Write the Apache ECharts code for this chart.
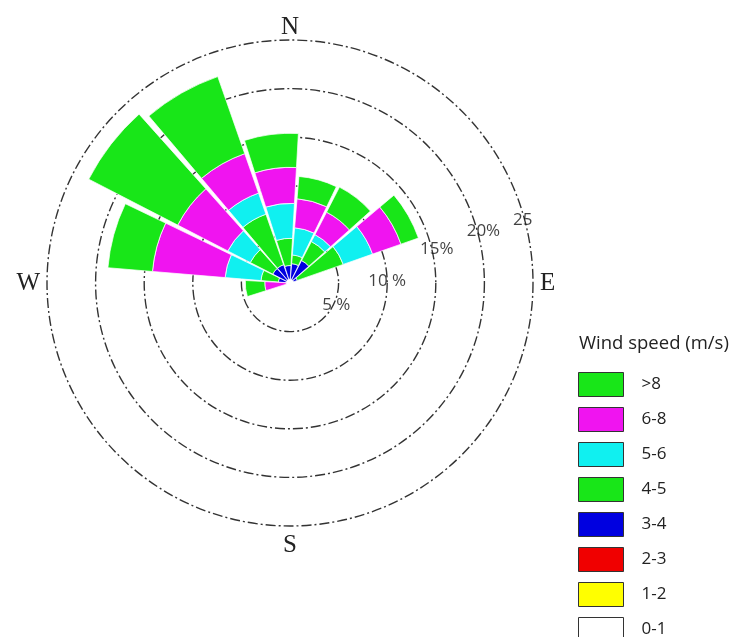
<!DOCTYPE html>
<html>
<head>
<meta charset="utf-8">
<script src="https://cdn.jsdelivr.net/npm/echarts@6/dist/echarts.min.js"></script>
<style>
html,body{margin:0;padding:0;background:#fff;}
#chart{width:735px;height:637px;}
</style>
</head>
<body>
<div id="chart"></div>
<script>
// ---- data ----
const directions = ['N','NNE','NE','ENE','E','ESE','SE','SSE','S','SSW','SW','WSW','W','WNW','NW','NNW'];
const speedBins = ['0-1','1-2','2-3','3-4','4-5','5-6','6-8','>8'];
const legendOrder = ['>8','6-8','5-6','4-5','3-4','2-3','1-2','0-1'];
// frequency (%) per direction sector, per wind speed class
const s0_1  = [0.4,0.4,0.4,0.3,0,0,0,0,0,0,0,0.4,0.4,0.4,0.4,0.4];
const s1_2  = [0,0,0,0,0,0,0,0,0,0,0,0,0,0,0,0];
const s2_3  = [0,0,0,0,0,0,0,0,0,0,0,0,0,0,0,0];
const s3_4  = [1.6,2.2,0.4,0,0,0,0,0,0,0,0,0,0.8,1.6,1.6,1.4];
const s4_5  = [0.9,2.2,5.0,0,0,0,0,0,0,0,0,0,1.8,2.6,5.5,2.8];
const s5_6  = [2.8,0.8,3.2,0,0,0,0,0,0,0,0,0,3.7,2.6,2.3,3.6];
const s6_8  = [3.0,2.6,3.1,0,0,0,0,0,0,0,0,2.2,7.5,5.8,4.3,3.7];
const s8up  = [2.3,2.9,1.9,0,0,0,0,0,0,0,0,2.0,4.6,10.3,8.4,3.5];
const ringTicks = [5,10,15,20,25];
const ringTickLabels = ['5 %','10 %','15%','20%','25'];
const compassLabels = {0:'N',90:'E',180:'S',270:'W'};

// ---- styles / layout ----
const binValues = [s0_1,s1_2,s2_3,s3_4,s4_5,s5_6,s6_8,s8up];
const binColors = ['#ffffff','#ffff00','#f00000','#0000e0','#18e618','#10f0f0','#f014f0','#18e618'];
const ringLabelBearing = [116, 89, 77, 75, 75];
const ringLabelRadius = [5.3, 10.0, 15.5, 20.6, 24.8];
const CENTER = [290, 283];
const RADIUS = 243;
const dash = [10, 3, 2, 3];
const UI_FONT = 'Open Sans';

const chart = echarts.init(document.getElementById('chart'), null, {renderer:'canvas'});

const series = speedBins.map((name, i) => ({
  type: 'bar',
  name: name,
  coordinateSystem: 'polar',
  polarIndex: 0,
  stack: 'wind',
  data: binValues[i],
  barCategoryGap: '7%',
  itemStyle: { color: binColors[i], borderColor: 'rgba(255,255,255,0.9)', borderWidth: 0.8 },
  emphasis: { disabled: true }
}));

series.push({
  type: 'scatter',
  coordinateSystem: 'polar',
  polarIndex: 2,
  symbolSize: 0,
  itemStyle: { color: '#111' },
  data: ringTicks.map((t, i) => [ringLabelRadius[i], ringLabelBearing[i]]),
  label: {
    show: true,
    position: 'inside',
    formatter: p => ringTickLabels[p.dataIndex],
    fontFamily: UI_FONT,
    fontSize: 17,
    color: '#111',
    textBorderWidth: 0
  },
  silent: true,
  z: 20
});

const option = {
  backgroundColor: '#fff',
  animation: false,
  title: {
    text: 'Wind speed (m/s)',
    left: 579,
    top: 334,
    padding: 0,
    textStyle: { fontFamily: UI_FONT, fontSize: 18.5, fontWeight: 'normal', color: '#222' }
  },
  legend: {
    data: legendOrder,
    orient: 'vertical',
    left: 578,
    top: 372,
    height: 280,
    padding: 0,
    itemWidth: 45,
    itemHeight: 24,
    itemGap: 10,
    icon: 'rect',
    itemStyle: { borderColor: '#333', borderWidth: 1 },
    textStyle: { fontFamily: UI_FONT, fontSize: 17, color: '#222', padding: [0,0,0,13] },
    selectedMode: false
  },
  polar: [
    { center: CENTER, radius: [0, RADIUS] },
    { center: CENTER, radius: [0, RADIUS] },
    { center: CENTER, radius: [0, RADIUS] }
  ],
  angleAxis: [
    {
      polarIndex: 0, type: 'category', data: directions, startAngle: 86, clockwise: true,
      axisLine: { show: false }, axisTick: { show: false }, axisLabel: { show: false }, splitLine: { show: false }
    },
    {
      polarIndex: 1, type: 'value', min: 0, max: 360, interval: 90, startAngle: 90, clockwise: true,
      axisLine: { show: false }, axisTick: { show: false }, splitLine: { show: false },
      axisLabel: {
        show: true, margin: 7,
        formatter: v => (v === 0 ? '{n|N}' : (compassLabels[v] || '')),
        fontFamily: 'Liberation Serif', fontSize: 25, color: '#222',
        rich: { n: { fontFamily: 'Liberation Serif', fontSize: 25, color: '#222', lineHeight: 11 } }
      }
    },
    {
      polarIndex: 2, type: 'value', min: 0, max: 360, startAngle: 90, clockwise: true, show: false
    }
  ],
  radiusAxis: [
    {
      polarIndex: 0, type: 'value', min: 0, max: 25, interval: 5,
      axisLine: { show: false }, axisTick: { show: false }, axisLabel: { show: false },
      splitLine: { show: true, lineStyle: { color: '#333', width: 1.4, type: dash } }
    },
    { polarIndex: 1, type: 'value', min: 0, max: 25, show: false },
    { polarIndex: 2, type: 'value', min: 0, max: 25, show: false }
  ],
  series: series
};
chart.setOption(option);
</script>
</body>
</html>
